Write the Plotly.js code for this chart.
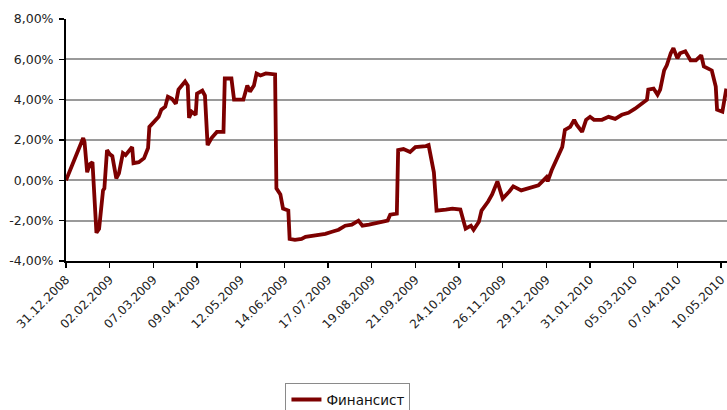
<!DOCTYPE html>
<html>
<head>
<meta charset="utf-8">
<script src="https://cdn.plot.ly/plotly-3.0.1.min.js"></script>
<style>
html,body{margin:0;padding:0;background:#fff;overflow:hidden;}
#wrap{width:727px;height:410px;overflow:hidden;position:relative;}
#chart{width:727px;height:440px;}
</style>
</head>
<body>
<div id="wrap"><div id="chart"></div></div>
<script>
// Series "Финансист", values in percent
const seriesName = 'Финансист';
const dates = [
'2008-12-31','2009-01-10','2009-01-13','2009-01-14','2009-01-16','2009-01-18','2009-01-20','2009-01-23','2009-01-25','2009-01-28',
'2009-01-29','2009-01-31','2009-02-02','2009-02-04','2009-02-07','2009-02-09','2009-02-12','2009-02-14','2009-02-17','2009-02-19',
'2009-02-20','2009-02-24','2009-02-28','2009-03-03','2009-03-04','2009-03-08','2009-03-11','2009-03-13','2009-03-16','2009-03-18',
'2009-03-21','2009-03-24','2009-03-26','2009-03-31','2009-04-02','2009-04-03','2009-04-05','2009-04-08','2009-04-09','2009-04-13',
'2009-04-15','2009-04-17','2009-04-20','2009-04-24','2009-04-29','2009-04-30','2009-05-05','2009-05-07','2009-05-14','2009-05-17',
'2009-05-19','2009-05-22','2009-05-24','2009-05-27','2009-05-31','2009-06-07','2009-06-08','2009-06-11','2009-06-13','2009-06-17',
'2009-06-18','2009-06-22','2009-06-27','2009-06-30','2009-07-05','2009-07-10','2009-07-15','2009-07-20','2009-07-25','2009-07-30',
'2009-08-04','2009-08-09','2009-08-12','2009-08-17','2009-08-24','2009-08-31','2009-09-02','2009-09-07','2009-09-08','2009-09-12',
'2009-09-17','2009-09-21','2009-09-29','2009-10-01','2009-10-05','2009-10-07','2009-10-14','2009-10-19','2009-10-25','2009-10-29',
'2009-11-02','2009-11-04','2009-11-08','2009-11-10','2009-11-15','2009-11-18','2009-11-22','2009-11-26','2009-12-01','2009-12-04',
'2009-12-10','2009-12-16','2009-12-21','2009-12-23','2009-12-26','2009-12-29','2009-12-30','2010-01-02','2010-01-10','2010-01-12',
'2010-01-16','2010-01-19','2010-01-21','2010-01-25','2010-01-28','2010-01-31','2010-02-03','2010-02-09','2010-02-14','2010-02-19',
'2010-02-24','2010-03-01','2010-03-06','2010-03-11','2010-03-15','2010-03-16','2010-03-20','2010-03-23','2010-03-25','2010-03-28',
'2010-03-30','2010-04-02','2010-04-04','2010-04-07','2010-04-09','2010-04-13','2010-04-17','2010-04-21','2010-04-25','2010-04-27',
'2010-05-03','2010-05-06','2010-05-07','2010-05-11','2010-05-14'
];
const values = [
0.00,1.60,2.10,1.90,0.40,0.80,0.90,-2.60,-2.40,-0.50,
-0.40,1.50,1.30,1.20,0.10,0.35,1.35,1.25,1.50,1.65,
0.85,0.90,1.10,1.60,2.65,2.90,3.15,3.50,3.65,4.15,
4.05,3.80,4.50,4.90,4.70,3.10,3.40,3.25,4.30,4.45,
4.20,1.75,2.10,2.40,2.40,5.05,5.05,4.00,4.00,4.70,
4.40,4.70,5.30,5.20,5.30,5.25,-0.40,-0.70,-1.40,-1.50,
-2.90,-2.95,-2.90,-2.80,-2.75,-2.70,-2.65,-2.55,-2.45,-2.25,
-2.20,-2.00,-2.25,-2.20,-2.10,-2.00,-1.70,-1.65,1.50,1.55,
1.40,1.65,1.70,1.75,0.40,-1.50,-1.45,-1.40,-1.45,-2.40,
-2.25,-2.45,-2.05,-1.50,-1.05,-0.70,-0.05,-0.90,-0.55,-0.30,
-0.50,-0.40,-0.30,-0.25,-0.05,0.15,-0.05,0.50,1.65,2.50,
2.65,3.00,2.75,2.40,3.00,3.15,3.00,3.00,3.15,3.05,
3.25,3.35,3.55,3.80,4.00,4.50,4.55,4.25,4.50,5.45,
5.70,6.30,6.55,6.05,6.30,6.40,5.95,5.95,6.20,5.65,
5.45,4.65,3.50,3.40,4.55
];
// Axis ticks
const xTickVals = ['2008-12-31','2009-02-02','2009-03-07','2009-04-09','2009-05-12','2009-06-14','2009-07-17','2009-08-19',
'2009-09-21','2009-10-24','2009-11-26','2009-12-29','2010-01-31','2010-03-05','2010-04-07','2010-05-10'];
const xTickText = ['31.12.2008','02.02.2009','07.03.2009','09.04.2009','12.05.2009','14.06.2009','17.07.2009','19.08.2009',
'21.09.2009','24.10.2009','26.11.2009','29.12.2009','31.01.2010','05.03.2010','07.04.2010','10.05.2010'];
const yTickVals = [-4,-2,0,2,4,6,8];
const yTickText = ['-4,00%','-2,00%','0,00%','2,00%','4,00%','6,00%','8,00%'];

const trace = {
  x: dates, y: values, type: 'scatter', mode: 'lines', name: seriesName,
  line: {color: '#7d0000', width: 3.8},
  showlegend: true, hoverinfo: 'skip'
};
const xfont = {family: 'DejaVu Sans, Verdana, sans-serif', size: 12, color: '#222'};
const yfont = {family: 'DejaVu Sans, Verdana, sans-serif', size: 12.5, color: '#222'};
const layout = {
  width: 727, height: 440,
  margin: {l: 66, r: 0, t: 19, b: 179, pad: 0},
  paper_bgcolor: '#fff', plot_bgcolor: '#fff',
  font: xfont,
  showlegend: true,
  xaxis: {
    type: 'date', range: ['2008-12-31', '2010-05-14 12:00'],
    tickmode: 'array', tickvals: xTickVals, ticktext: xTickText,
    tickangle: -45, ticks: 'outside', ticklen: 5, tickwidth: 1.5, tickcolor: '#000',
    ticklabeloverflow: 'allow',
    showline: true, linecolor: '#000', linewidth: 2,
    showgrid: false, zeroline: false, tickfont: xfont, fixedrange: true
  },
  yaxis: {
    range: [-4, 8], tickmode: 'array', tickvals: yTickVals, ticktext: yTickText,
    ticks: 'outside', ticklen: 5, tickwidth: 1.5, tickcolor: '#000', ticklabelstandoff: 3,
    showline: true, linecolor: '#000', linewidth: 2,
    showgrid: true, gridcolor: '#9a9a9a', gridwidth: 1.8,
    zeroline: false, tickfont: yfont, fixedrange: true
  },
  legend: {
    x: 0.332, xanchor: 'left', y: -0.505, yanchor: 'top',
    bordercolor: '#8a8a8a', borderwidth: 1, bgcolor: '#fff',
    font: {family: 'DejaVu Sans, Verdana, sans-serif', size: 13.5, color: '#111'}
  }
};
Plotly.newPlot('chart', [trace], layout, {staticPlot: true, displayModeBar: false});
</script>
</body>
</html>
